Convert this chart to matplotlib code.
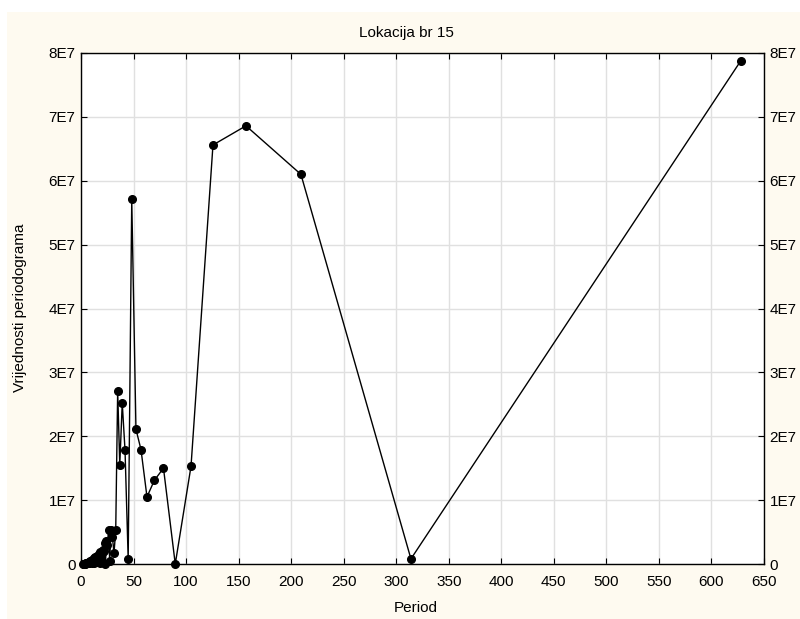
import matplotlib.pyplot as plt
from matplotlib.patches import Rectangle

plt.rcParams['font.family'] = ['Liberation Sans', 'DejaVu Sans']

# period and periodogram value (in units of 1E7)
period = [628, 314, 209.3, 157, 125.6, 104.7, 89.7, 78.5, 69.8, 62.8,
          57.1, 52.3, 48.3, 44.9, 41.9, 39.25, 36.9, 34.9, 33.05, 31.4,
          29.9, 28.5, 27.3, 26.2, 25.1, 24.15, 23.3, 22.4, 21.7, 20.9,
          20.3, 19.6, 19.0, 18.5, 17.9, 17.4, 17.0, 16.5, 16.1, 15.7,
          15.3, 14.9, 14.3, 13.7, 13.1, 12.6, 12.1, 11.6, 11.0, 10.5,
          10.0, 9.5, 9.0, 8.5, 8.0, 7.5, 7.0, 6.5, 6.0, 5.5,
          5.0, 4.5, 4.0, 3.5, 3.0, 2.5, 2.0]
value = [7.88, 0.08, 6.10, 6.86, 6.56, 1.53, 0.0, 1.50, 1.31, 1.05,
         1.79, 2.11, 5.71, 0.08, 1.78, 2.52, 1.55, 2.71, 0.53, 0.17,
         0.42, 0.53, 0.05, 0.53, 0.30, 0.36, 0.0, 0.33, 0.20, 0.22,
         0.05, 0.18, 0.12, 0.19, 0.02, 0.15, 0.10, 0.13, 0.04, 0.12,
         0.08, 0.10, 0.03, 0.11, 0.06, 0.09, 0.02, 0.07, 0.05, 0.06,
         0.01, 0.05, 0.03, 0.04, 0.02, 0.03, 0.01, 0.02, 0.01, 0.015,
         0.01, 0.008, 0.005, 0.004, 0.003, 0.002, 0.001]

xticks = list(range(0, 651, 50))
yticks = [0, 1, 2, 3, 4, 5, 6, 7, 8]
ylabels = ['0'] + ['%dE7' % v for v in yticks[1:]]

fig = plt.figure(figsize=(8, 6.19), dpi=100, facecolor='white')
fig.patches.append(Rectangle((7 / 800, 0), 1, (619 - 12) / 619,
                             transform=fig.transFigure, facecolor='#fefaf0',
                             edgecolor='none', zorder=-10))

ax = fig.add_axes([81 / 800, (619 - 564) / 619, (764 - 81) / 800, (564 - 53) / 619])
ax.set_facecolor('white')
ax.plot(period, value, '-o', color='black', lw=1, ms=5.5, clip_on=False, zorder=3)

ax.set_xlim(0, 650)
ax.set_ylim(0, 8)
ax.set_xticks(xticks)
ax.set_yticks(yticks)
ax.set_yticklabels(ylabels)
ax.grid(True, color='#e0e0e0', lw=1)
ax.set_axisbelow(True)
ax.tick_params(direction='in', top=True, right=True, labelright=True,
               labelsize=11, length=4, width=0.8, pad=4)
ax.tick_params(axis='x', pad=8)
for s in ax.spines.values():
    s.set_linewidth(1)

fig.text(406 / 800, 1 - 33 / 619, 'Lokacija br 15', fontsize=11,
         ha='center', va='center')
fig.text(416 / 800, 1 - 608 / 619, 'Period', fontsize=11,
         ha='center', va='center')
fig.text(20 / 800, 1 - 308 / 619, 'Vrijednosti periodograma', fontsize=11,
         ha='center', va='center', rotation=90)

fig.savefig('out.png', dpi=100, facecolor=fig.get_facecolor())
